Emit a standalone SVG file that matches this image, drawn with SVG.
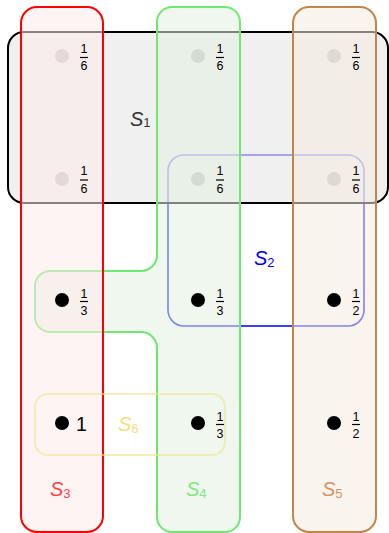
<svg xmlns="http://www.w3.org/2000/svg" width="389" height="533" viewBox="0 0 389 533">
<style>
.lbl{font-family:"Liberation Sans",Arial,sans-serif;font-size:20px}
.lbl .s{font-style:italic}
.lbl .n{font-size:13px}
.fr{font-family:"Liberation Sans",Arial,sans-serif;font-size:12.5px;fill:#000;text-anchor:middle}
.bd{fill:#000}
.gd{fill:#c4c2c2}
.bar{stroke:#000;stroke-width:1.2}
</style>
<g id="connectors"></g>
<g id="S2"><rect x="168" y="155" width="196" height="171" rx="16" fill="none" stroke="#0000ff" stroke-width="1.6"/></g>
<g id="S1"><rect x="8" y="32" width="380" height="171" rx="16" fill="#e6e6e6" fill-opacity="0.6" stroke="#000" stroke-width="2"/></g>
<g id="covered-dots">
<circle class="gd" cx="62" cy="56" r="7"/><circle class="gd" cx="198" cy="56" r="7"/><circle class="gd" cx="334" cy="56" r="7"/>
<circle class="gd" cx="62" cy="179" r="7"/><circle class="gd" cx="198" cy="179" r="7"/><circle class="gd" cx="334" cy="179" r="7"/>
</g>
<g id="S4"><path d="M172,7 H225 A15,15 0 0 1 240,22 V517 A15,15 0 0 1 225,532 H172 A15,15 0 0 1 157,517 V348 A16,16 0 0 0 141,332 H50 A15,15 0 0 1 35,317 V286 A15,15 0 0 1 50,271 H141 A16,16 0 0 0 157,255 V22 A15,15 0 0 1 172,7 Z" fill="rgb(225,240,225)" fill-opacity="0.55" stroke="#6ee86e" stroke-width="2"/></g>
<g id="S3"><rect x="21" y="7" width="82" height="525" rx="16" fill="rgb(255,235,235)" fill-opacity="0.55" stroke="#ff0000" stroke-width="2"/></g>
<g id="S5"><rect x="293" y="7" width="83" height="525" rx="16" fill="rgb(245,235,225)" fill-opacity="0.55" stroke="#c4844a" stroke-width="2"/></g>
<g id="S6"><rect x="35" y="394" width="190" height="61" rx="13" fill="none" stroke="#f0e490" stroke-opacity="0.6" stroke-width="2"/></g>
<g id="black-dots">
<circle class="bd" cx="62" cy="300" r="7"/><circle class="bd" cx="198" cy="300" r="7"/><circle class="bd" cx="334" cy="300" r="7"/>
<circle class="bd" cx="62" cy="423" r="7"/><circle class="bd" cx="198" cy="423" r="7"/><circle class="bd" cx="334" cy="423" r="7"/>
</g>
<g id="fractions">
<text class="fr" x="84" y="53">1</text><line class="bar" x1="80" y1="57.5" x2="88" y2="57.5"/><text class="fr" x="84" y="70">6</text>
<text class="fr" x="220" y="53">1</text><line class="bar" x1="216" y1="57.5" x2="224" y2="57.5"/><text class="fr" x="220" y="70">6</text>
<text class="fr" x="356" y="53">1</text><line class="bar" x1="352" y1="57.5" x2="360" y2="57.5"/><text class="fr" x="356" y="70">6</text>
<text class="fr" x="84" y="175">1</text><line class="bar" x1="80" y1="180" x2="88" y2="180"/><text class="fr" x="84" y="192.5">6</text>
<text class="fr" x="220" y="175">1</text><line class="bar" x1="216" y1="180" x2="224" y2="180"/><text class="fr" x="220" y="192.5">6</text>
<text class="fr" x="356" y="175">1</text><line class="bar" x1="352" y1="180" x2="360" y2="180"/><text class="fr" x="356" y="192.5">6</text>
<text class="fr" x="84" y="297.5">1</text><line class="bar" x1="80" y1="301.5" x2="88" y2="301.5"/><text class="fr" x="84" y="314.5">3</text>
<text class="fr" x="220" y="297.5">1</text><line class="bar" x1="216" y1="301.5" x2="224" y2="301.5"/><text class="fr" x="220" y="314.5">3</text>
<text class="fr" x="356" y="297.5">1</text><line class="bar" x1="352" y1="301.5" x2="360" y2="301.5"/><text class="fr" x="356" y="314.5">2</text>
<text class="fr" x="220" y="420.5">1</text><line class="bar" x1="216" y1="424.5" x2="224" y2="424.5"/><text class="fr" x="220" y="437.5">3</text>
<text class="fr" x="356" y="420.5">1</text><line class="bar" x1="352" y1="424.5" x2="360" y2="424.5"/><text class="fr" x="356" y="437.5">2</text>
<text x="76" y="431" font-family="Liberation Sans,Arial,sans-serif" font-size="19.5" fill="#000">1</text>
</g>
<g id="labels">
<text class="lbl" x="130" y="125.5" fill="#333"><tspan class="s">S</tspan><tspan class="n" dy="1.5">1</tspan></text>
<text class="lbl" x="254" y="265" fill="#0000ff"><tspan class="s">S</tspan><tspan class="n" dy="1.5">2</tspan></text>
<text class="lbl" x="50" y="496" fill="#ff4444"><tspan class="s">S</tspan><tspan class="n" dy="2">3</tspan></text>
<text class="lbl" x="186" y="496" fill="#80e880"><tspan class="s">S</tspan><tspan class="n" dy="2">4</tspan></text>
<text class="lbl" x="322" y="496" fill="#d09464"><tspan class="s">S</tspan><tspan class="n" dy="2">5</tspan></text>
<text class="lbl" x="118" y="431" fill="#f0e080"><tspan class="s">S</tspan><tspan class="n" dy="1.5">6</tspan></text>
</g>
</svg>
